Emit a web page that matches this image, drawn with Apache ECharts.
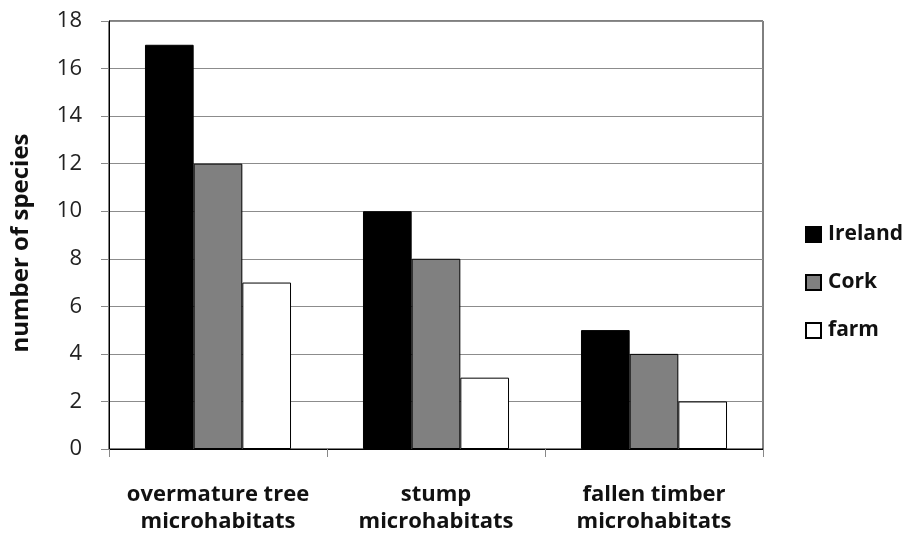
<!DOCTYPE html>
<html>
<head>
<meta charset="utf-8">
<script src="https://cdn.jsdelivr.net/npm/echarts@6/dist/echarts.min.js"></script>
<style>html,body{margin:0;padding:0;background:#fff;overflow:hidden;}#c{width:907px;height:534px;}</style>
</head>
<body>
<div id="c"></div>
<script>
const categories = ['overmature tree\nmicrohabitats', 'stump\nmicrohabitats', 'fallen timber\nmicrohabitats'];
const seriesNames = ['Ireland', 'Cork', 'farm'];
const ireland = [17, 10, 5];
const cork = [12, 8, 4];
const farm = [7, 3, 2];
const yTicks = [0, 2, 4, 6, 8, 10, 12, 14, 16, 18];

const FONT = '"Open Sans", Lato, sans-serif';
const chart = echarts.init(document.getElementById('c'));
chart.setOption({
  animation: false,
  backgroundColor: '#fff',
  grid: { left: 109, width: 654, top: 21, height: 428, outerBoundsMode: 'none', containLabel: false,
          show: true, borderColor: '#000', borderWidth: 1 },
  legend: {
    orient: 'vertical', left: 805, top: 224, padding: 0,
    itemWidth: 15, itemHeight: 15, itemGap: 27,
    icon: 'rect',
    textStyle: { fontFamily: FONT, fontSize: 21, fontWeight: 'bold', color: '#111', padding: [0, 0, 0, 2] },
    data: seriesNames
  },
  xAxis: {
    type: 'category', data: categories,
    axisLine: { show: true, lineStyle: { color: '#000', width: 1 } },
    axisTick: { show: true, length: 8, lineStyle: { color: '#888' } },
    axisLabel: { interval: 0, margin: 32, fontFamily: FONT, fontSize: 22, fontWeight: 'bold', color: '#111', lineHeight: 27 }
  },
  yAxis: {
    type: 'value', min: 0, max: 18, interval: 2,
    name: 'number of species', nameLocation: 'middle', nameGap: 76, nameRotate: 90,
    nameTextStyle: { fontFamily: FONT, fontSize: 24, fontWeight: 'bold', color: '#111', padding: [0, 16, 0, 0] },
    axisLine: { show: true, lineStyle: { color: '#000' } },
    axisTick: { show: true, length: 8, lineStyle: { color: '#888' } },
    axisLabel: { margin: 27, fontFamily: FONT, fontSize: 22, color: '#222',
      formatter: v => yTicks.includes(v) ? String(v) : '' },
    splitLine: { show: true, lineStyle: { color: '#8c8c8c', width: 1 } }
  },
  series: [
    { name: seriesNames[0], type: 'bar', data: ireland, barGap: '0%', barCategoryGap: '33%',
      itemStyle: { color: '#000', borderColor: '#000', borderWidth: 1 } },
    { name: seriesNames[1], type: 'bar', data: cork, barGap: '0%', barCategoryGap: '33%',
      itemStyle: { color: '#808080', borderColor: '#000', borderWidth: 1 } },
    { name: seriesNames[2], type: 'bar', data: farm, barGap: '0%', barCategoryGap: '33%',
      itemStyle: { color: '#fff', borderColor: '#000', borderWidth: 1 } }
  ]
});
</script>
</body>
</html>
